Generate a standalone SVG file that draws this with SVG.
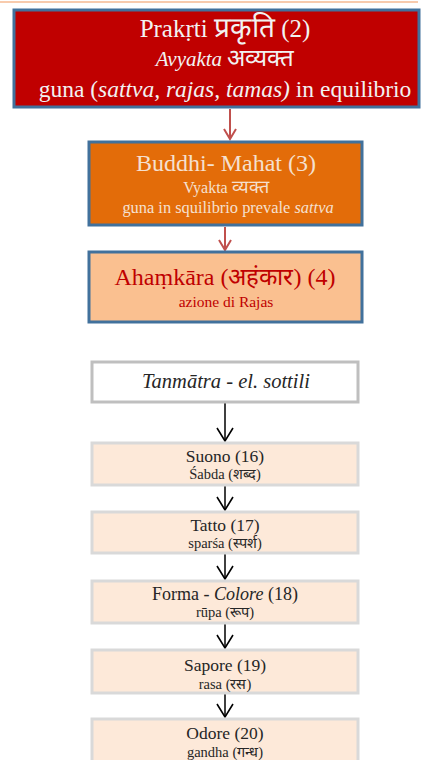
<svg xmlns="http://www.w3.org/2000/svg" width="425" height="760" viewBox="0 0 425 760">
<defs>
<style>
text{font-family:"Liberation Serif",serif;text-anchor:middle}
.it{font-style:italic}
.n1{fill:#C00000;stroke:#41719C;stroke-width:3}
.n2{fill:#E36C09;stroke:#41719C;stroke-width:3}
.n3{fill:#FAC090;stroke:#41719C;stroke-width:3}
.n4{fill:#FFFFFF;stroke:#BFBFBF;stroke-width:3}
.n5{fill:#FDE9D9;stroke:#D9D9D9;stroke-width:3}
.lt{fill:#F2F2F2}
.lt2{fill:#F5E0D0}
.dk{fill:#262626}
.red{fill:#C00000}
.ra{stroke:#C0504D;stroke-width:2;fill:none}
.ba{stroke:#000;stroke-width:1.5;fill:none}
.t1{font-size:17.5px}
.t2{font-size:14.5px}
</style>
<marker id="mr" markerWidth="14" markerHeight="14" refX="12" refY="7" orient="auto" markerUnits="userSpaceOnUse" viewBox="0 0 14 14">
<polyline points="2,1 12,7 2,13" fill="none" stroke="#C0504D" stroke-width="2"/>
</marker>
<marker id="mb" markerWidth="16" markerHeight="18" refX="14" refY="9" orient="auto" markerUnits="userSpaceOnUse" viewBox="0 0 16 18">
<polyline points="1,1 14,9 1,17" fill="none" stroke="#000" stroke-width="1.6"/>
</marker>
</defs>
<rect x="0" y="0" width="425" height="760" fill="#FFFFFF"/>
<line x1="0" y1="2" x2="418" y2="2" stroke="#F8CBAD" stroke-width="2"/>
<g id="connectors">
<line class="ra" x1="230" y1="109" x2="230" y2="139" marker-end="url(#mr)"/>
<line class="ra" x1="225" y1="227" x2="225" y2="250" marker-end="url(#mr)"/>
<line class="ba" x1="225" y1="403" x2="225" y2="441" marker-end="url(#mb)"/>
<line class="ba" x1="225" y1="486" x2="225" y2="510" marker-end="url(#mb)"/>
<line class="ba" x1="225" y1="554" x2="225" y2="579" marker-end="url(#mb)"/>
<line class="ba" x1="225" y1="624" x2="225" y2="648" marker-end="url(#mb)"/>
<line class="ba" x1="225" y1="694" x2="225" y2="717" marker-end="url(#mb)"/>
</g>
<g id="prakrti">
<rect class="n1" x="14" y="10" width="405" height="97"/>
<text class="lt" x="225" y="37" font-size="25">Prakṛti <tspan font-size="28">प्रकृति</tspan> (2)</text>
<text class="lt" x="225" y="66" font-size="21"><tspan class="it">Avyakta</tspan> <tspan font-size="24">अव्यक्त</tspan></text>
<text class="lt" x="225" y="97" font-size="23.5">guna (<tspan class="it">sattva, rajas, tamas)</tspan> in equilibrio</text>
</g>
<g id="buddhi">
<rect class="n2" x="89" y="142" width="273" height="83"/>
<text class="lt2" x="226" y="171" font-size="24">Buddhi- Mahat (3)</text>
<text class="lt2" x="226" y="193" font-size="16">Vyakta <tspan font-size="18">व्यक्त</tspan></text>
<text class="lt2" x="228" y="213" font-size="16.4">guna  in squilibrio prevale <tspan class="it">sattva</tspan></text>
</g>
<g id="ahamkara">
<rect class="n3" x="89" y="252" width="273" height="70"/>
<text class="red" x="225" y="285" font-size="24">Ahaṃkāra (अहंकार) (4)</text>
<text class="red" x="226" y="307" font-size="15.5">azione di Rajas</text>
</g>
<g id="tanmatra">
<rect class="n4" x="92" y="362" width="266" height="40"/>
<text class="dk" x="226" y="388" font-size="20.5"><tspan class="it">Tanmātra</tspan> - <tspan class="it">el. sottili</tspan></text>
</g>
<g id="suono">
<rect class="n5" x="92" y="443" width="266" height="42"/>
<text class="dk t1" x="225" y="462">Suono (16)</text>
<text class="dk t2" x="225" y="479">Śabda (शब्द)</text>
</g>
<g id="tatto">
<rect class="n5" x="92" y="512" width="266" height="41"/>
<text class="dk t1" x="225" y="531">Tatto (17)</text>
<text class="dk t2" x="225" y="548">sparśa (स्पर्श)</text>
</g>
<g id="forma">
<rect class="n5" x="92" y="581" width="266" height="42"/>
<text class="dk" x="225" y="600" font-size="18">Forma - <tspan class="it">Colore</tspan> (18)</text>
<text class="dk t2" x="225" y="617">rūpa (रूप)</text>
</g>
<g id="sapore">
<rect class="n5" x="92" y="650" width="266" height="43"/>
<text class="dk t1" x="225" y="671">Sapore (19)</text>
<text class="dk t2" x="225" y="689">rasa (रस)</text>
</g>
<g id="odore">
<rect class="n5" x="92" y="719" width="266" height="50"/>
<text class="dk t1" x="225" y="739">Odore (20)</text>
<text class="dk t2" x="225" y="757">gandha (गन्ध)</text>
</g>
</svg>
